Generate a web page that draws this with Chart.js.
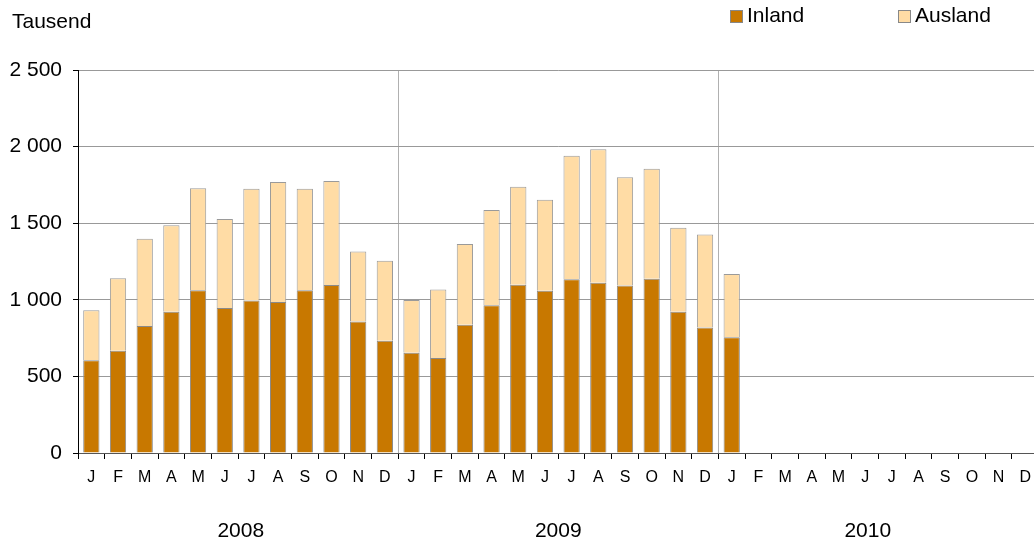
<!DOCTYPE html>
<html>
<head>
<meta charset="utf-8">
<script src="https://cdn.jsdelivr.net/npm/chart.js@4"></script>
<style>
  html, body { margin: 0; padding: 0; background: #fff; overflow: hidden; }
  #wrap { width: 1040px; height: 547px; position: relative; }
</style>
</head>
<body>
<div id="wrap"><canvas id="chart"></canvas></div>
<script>
const months = ["J","F","M","A","M","J","J","A","S","O","N","D"];
const labels = [...months, ...months, ...months];
const years = ["2008", "2009", "2010"];

// Tausend
const inland = [605, 667, 829, 922, 1062, 946, 996, 985, 1062, 1096, 859, 733,
  654, 620, 837, 964, 1098, 1059, 1134, 1111, 1094, 1138, 922, 820,
  755, null, null, null, null, null, null, null, null, null, null, null];
const ausland = [326, 473, 570, 564, 666, 581, 729, 784, 663, 680, 457, 522,
  344, 448, 527, 622, 640, 594, 807, 871, 706, 718, 549, 607,
  413, null, null, null, null, null, null, null, null, null, null, null];

const yTicks = [0, 500, 1000, 1500, 2000, 2500];

const inlandColor = "#c87800";
const auslandColor = "#ffdca5";
const FONT = "'Liberation Sans', Arial, sans-serif";

const fmt = (v) => String(v).replace(/\B(?=(\d{3})+(?!\d))/g, " ");

const extras = {
  id: "extras",
  afterDraw(chart) {
    const c = chart.ctx;
    const x = chart.scales.x;
    c.save();
    c.fillStyle = "#000";
    c.font = "21px " + FONT;
    c.textBaseline = "middle";
    c.textAlign = "left";
    c.fillText("Tausend", 12, 22);

    // legend
    const items = [["Inland", inlandColor, 730], ["Ausland", auslandColor, 898]];
    items.forEach(([name, col, lx]) => {
      c.fillStyle = col;
      c.fillRect(lx, 10, 13, 13);
      c.strokeStyle = "#888";
      c.lineWidth = 1;
      c.strokeRect(lx + 0.5, 10.5, 12, 12);
      c.fillStyle = "#000";
      c.fillText(name, lx + 17, 16.5);
    });

    // year labels under the months
    const step = (x.right - x.left) / labels.length;
    const yearCenters = [6.1, 18, 29.6];
    c.textAlign = "center";
    years.forEach((yr, i) => {
      c.fillText(yr, x.left + yearCenters[i] * step, 531);
    });
    c.restore();
  }
};

new Chart(document.getElementById("chart"), {
  type: "bar",
  data: {
    labels,
    datasets: [
      {
        label: "Inland",
        data: inland,
        backgroundColor: inlandColor,
        borderColor: "#8a8a8a",
        borderWidth: 1,
        barPercentage: 0.61,
        categoryPercentage: 1,
      },
      {
        label: "Ausland",
        data: ausland,
        backgroundColor: auslandColor,
        borderColor: "#9a9a9a",
        borderWidth: 1,
        barPercentage: 0.61,
        categoryPercentage: 1,
      },
    ],
  },
  options: {
    responsive: true,
    maintainAspectRatio: false,
    animation: false,
    layout: { padding: { top: 70, right: 0, bottom: 0, left: 0 } },
    plugins: { legend: { display: false }, tooltip: { enabled: false } },
    scales: {
      x: {
        stacked: true,
        afterFit: (s) => { s.height = 94; },
        border: { color: "#555", width: 1 },
        grid: {
          offset: true,
          color: (ctx) => (ctx.index === 12 || ctx.index === 24 ? "#b0b0b0" : "rgba(0,0,0,0)"),
          tickColor: "#000",
          tickLength: 6,
        },
        ticks: {
          autoSkip: false,
          maxRotation: 0,
          color: "#000",
          padding: 9,
          font: { family: FONT, size: 16 },
        },
      },
      y: {
        stacked: true,
        min: 0,
        max: 2500,
        afterFit: (s) => { s.width = 78; },
        afterBuildTicks: (s) => { s.ticks = yTicks.map((v) => ({ value: v })); },
        border: { color: "#000", width: 1 },
        grid: { color: "#999", tickColor: "#000", tickLength: 5 },
        ticks: {
          color: "#000",
          padding: 11,
          font: { family: FONT, size: 21 },
          callback: (v) => fmt(v),
        },
      },
    },
  },
  plugins: [extras],
});
</script>
</body>
</html>
